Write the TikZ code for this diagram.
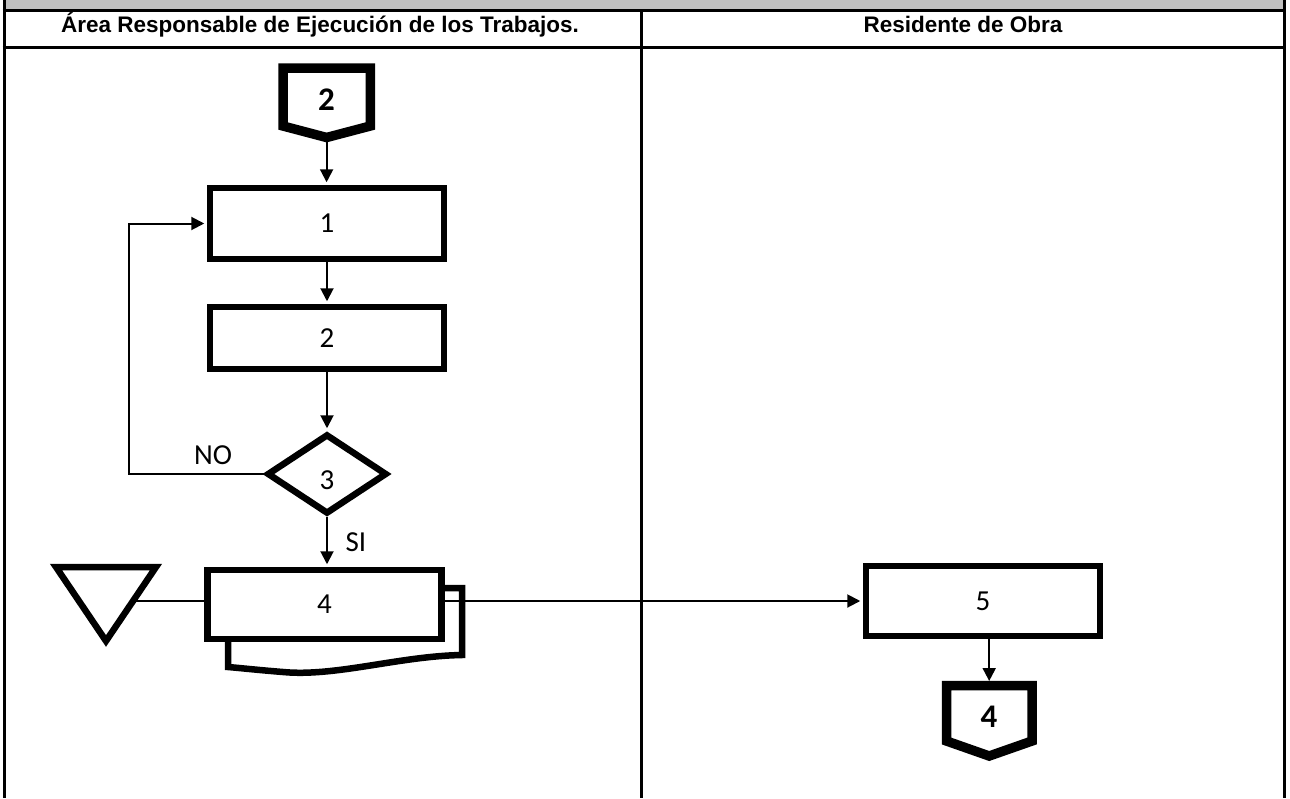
\documentclass[tikz,border=0pt]{standalone}
\usepackage{fontspec}
\setmainfont{Carlito}
\newfontfamily\hdrfont{Liberation Sans}
\usetikzlibrary{shapes.geometric,arrows.meta}
\definecolor{hdrgray}{RGB}{192,192,192}
\begin{document}
\begin{tikzpicture}[x=1pt,y=-1pt,
  thickbox/.style={draw, line width=6.5pt, fill=white, rectangle, inner sep=0pt,
    minimum width=234pt, font=\fontsize{29}{33}\selectfont},
  flow/.style={line width=2pt, -{Triangle[length=13pt,width=13pt]}, shorten >=2.5pt},
  plain/.style={line width=2pt},
  tbl/.style={line width=3pt},
  hdr/.style={font=\hdrfont\bfseries\fontsize{22.5}{26}\selectfont, anchor=base, inner sep=0pt},
  lbl/.style={font=\fontsize{29}{33}\selectfont, inner sep=0pt},
  conn/.style={line width=9.5pt, fill=white, line join=miter},
  cnum/.style={font=\bfseries\fontsize{33}{37}\selectfont, inner sep=0pt}
]
\useasboundingbox (0,0) rectangle (1290,798);

% table frame
\fill[hdrgray] (4,0) rectangle (1284,10.5);
\draw[tbl] (4,0) -- (4,798);
\draw[tbl] (1284,0) -- (1284,798);
\draw[tbl] (641,10.5) -- (641,798);
\draw[tbl] (2.5,10.5) -- (1285.5,10.5);
\draw[tbl] (2.5,47) -- (1285.5,47);
\node[hdr] (h1) at (320,32) {Área Responsable de Ejecución de los Trabajos.};
\node[hdr] (h2) at (963,32) {Residente de Obra};

% off-page connector 2
\draw[conn] (283,68) -- (370.3,68) -- (370.3,126) -- (326.6,137.5) -- (283,126) -- cycle;
\coordinate (c2tip) at (326.6,138);
\node[cnum] (c2) at (326.5,100) {2};

% process boxes
\node[thickbox, minimum height=71pt] (b1) at (327,223.5) {1};
\node[thickbox, minimum height=62pt] (b2) at (327,338) {2};
\node[draw, diamond, line width=6.5pt, fill=white, inner sep=0pt,
  minimum width=120pt, minimum height=80pt, lbl] (d3) at (327,474) {\raisebox{-6pt}[\height][0pt]{3}};

% document shape behind box 4
\draw[line width=6.5pt, line join=miter]
  (436,588) -- (462,588) -- (462,655)
  .. controls (400,656) and (335,677) .. (283,672)
  .. controls (258,670) and (240,668) .. (228,667) -- (228,636);
\node[thickbox, minimum height=69pt] (b4) at (324.5,604.5) {4};

% merge triangle
\draw[line width=6.5pt, line join=miter] (56,567) -- (156,567) -- (106,641) -- cycle;
\coordinate (trR) at (133,601);

% box 5 and connector 4
\node[thickbox, minimum height=70pt] (b5) at (983,601) {5};
\draw[conn] (946.5,685.5) -- (1032,685.5) -- (1032,741) -- (989.2,756) -- (946.5,741) -- cycle;
\coordinate (c4top) at (989.2,683.5);
\node[cnum] (c4) at (989,717) {4};

% connectors
\draw[flow] (c2tip) -- (c2tip |- b1.north);
\draw[flow] (b1.south -| b2.north) -- (b2.north);
\draw[flow] (b2.south -| d3.north) -- (d3.north);
\draw[flow] (d3.west) -- ++(-135,0) |- (b1.west);
\draw[flow] (d3.south) -- (d3.south |- b4.north);
\draw[plain] (trR) -- (trR -| b4.west);
\draw[flow] (b4.east |- b5.west) -- (b5.west);
\draw[flow] (b5.south -| c4top) -- (c4top);

% labels
\node[lbl] (no) at (213,455) {NO};
\node[lbl] (si) at (356,542) {SI};
\end{tikzpicture}
\end{document}
